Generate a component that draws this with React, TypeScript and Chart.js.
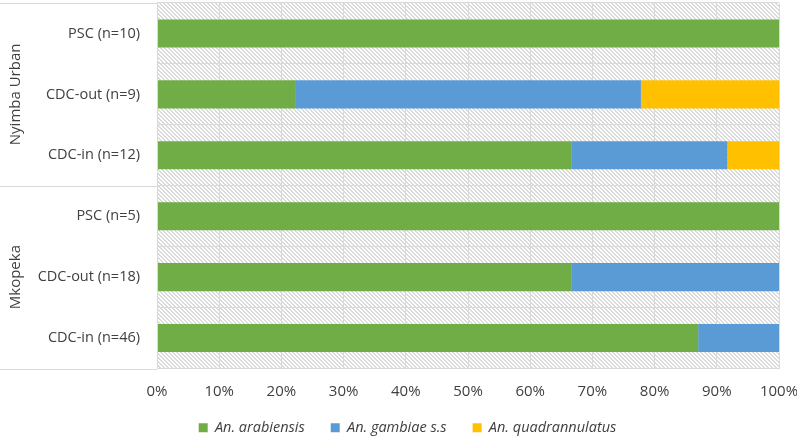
import React, { useEffect, useRef } from "react";
import { Chart, registerables } from "chart.js";

Chart.register(...registerables);

const categories = ["PSC (n=10)", "CDC-out (n=9)", "CDC-in (n=12)", "PSC (n=5)", "CDC-out (n=18)", "CDC-in (n=46)"];
const groups = ["Nyimba Urban", "Mkopeka"];
const groupSizes = [3, 3];
const arabiensis = [100, 22.2, 66.7, 100, 66.7, 87.0];
const gambiae = [0, 55.6, 25.0, 0, 33.3, 13.0];
const quadrannulatus = [0, 22.2, 8.3, 0, 0, 0];
const seriesNames = ["An. arabiensis", "An. gambiae s.s", "An. quadrannulatus"];
const xTicks = [0, 10, 20, 30, 40, 50, 60, 70, 80, 90, 100];

const FONT = "'Open Sans', 'Liberation Sans', sans-serif";
const TEXT = "#404040";
const GRID = "#d9d9d9";

function makePattern(ctx: CanvasRenderingContext2D) {
  const c = document.createElement("canvas");
  const s = 4;
  c.width = s;
  c.height = s;
  const p = c.getContext("2d")!;
  p.fillStyle = "#ffffff";
  p.fillRect(0, 0, s, s);
  p.fillStyle = "#dadada";
  for (let i = 0; i < s; i++) {
    p.fillRect(i, i, 1, 1);
    p.fillRect((i + 1) % s, i, 1, 1);
  }
  return ctx.createPattern(c, "repeat")!;
}

const bgPlugin = {
  id: "hatchBg",
  beforeDraw(chart: any) {
    const { ctx, chartArea } = chart;
    ctx.save();
    ctx.fillStyle = makePattern(ctx);
    ctx.fillRect(chartArea.left, chartArea.top, chartArea.right - chartArea.left, chartArea.bottom - chartArea.top);
    ctx.restore();
  },
  afterDraw(chart: any) {
    const { ctx, chartArea } = chart;
    const n = categories.length;
    const step = (chartArea.bottom - chartArea.top) / n;
    ctx.save();
    ctx.strokeStyle = GRID;
    ctx.lineWidth = 1;
    let idx = 0;
    const bounds = [0];
    groupSizes.forEach((g) => {
      idx += g;
      bounds.push(idx);
    });
    bounds.forEach((b) => {
      const y = Math.round(chartArea.top + b * step) + 0.5;
      ctx.beginPath();
      ctx.moveTo(0, y);
      ctx.lineTo(chartArea.left, y);
      ctx.stroke();
    });
    ctx.beginPath();
    ctx.moveTo(Math.round(chartArea.left) + 0.5, chartArea.top);
    ctx.lineTo(Math.round(chartArea.left) + 0.5, chartArea.bottom);
    ctx.stroke();
    ctx.fillStyle = TEXT;
    ctx.font = `15px ${FONT}`;
    ctx.textAlign = "center";
    ctx.textBaseline = "middle";
    groups.forEach((g, i) => {
      const yc = chartArea.top + ((bounds[i] + bounds[i + 1]) / 2) * step;
      ctx.save();
      ctx.translate(16, yc);
      ctx.rotate(-Math.PI / 2);
      ctx.fillText(g, 0, 0);
      ctx.restore();
    });
    ctx.restore();
  },
};

export default function App() {
  const ref = useRef<HTMLCanvasElement>(null);
  useEffect(() => {
    document.body.style.margin = "0";
    const chart = new Chart(ref.current!, {
      type: "bar",
      data: {
        labels: categories,
        datasets: [
          { label: seriesNames[0], data: arabiensis, backgroundColor: "#70ad47" },
          { label: seriesNames[1], data: gambiae, backgroundColor: "#5b9bd5" },
          { label: seriesNames[2], data: quadrannulatus, backgroundColor: "#ffc000" },
        ],
      },
      plugins: [bgPlugin],
      options: {
        indexAxis: "y",
        animation: false,
        responsive: false,
        maintainAspectRatio: false,
        layout: { padding: { left: 36, right: 18, top: 3, bottom: -8 } },
        datasets: { bar: { barPercentage: 0.46, categoryPercentage: 1 } },
        scales: {
          x: {
            stacked: true,
            min: 0,
            max: 100,
            afterBuildTicks: (scale: any) => {
              scale.ticks = xTicks.map((v) => ({ value: v }));
            },
            ticks: {
              callback: (v: any) => v + "%",
              color: TEXT,
              font: { family: FONT, size: 15 },
              mirror: true,
              padding: -32,
              maxRotation: 0,
            },
            grid: { color: GRID, drawTicks: false },
            border: { display: false },
            afterFit: (scale: any) => {
              scale.height = 26;
              scale.paddingLeft = 0;
              scale.paddingRight = 0;
            },
          },
          y: {
            stacked: true,
            ticks: {
              color: TEXT,
              font: { family: FONT, size: 14.5 },
              padding: 17,
            },
            grid: { color: GRID, drawTicks: false, offset: true },
            border: { display: false },
            afterFit: (scale: any) => {
              scale.width = 121;
              scale.paddingTop = 0;
              scale.paddingBottom = 0;
            },
          },
        },
        plugins: {
          legend: {
            position: "bottom",
            labels: {
              boxWidth: 9,
              boxHeight: 9,
              padding: 26,
              color: TEXT,
              font: { family: FONT, size: 14.5, style: "italic" },
            },
          },
          tooltip: { enabled: false },
        },
      },
    });
    return () => chart.destroy();
  }, []);
  return (
    <div style={{ position: "absolute", left: 0, top: 0, width: 797, height: 437 }}>
      <canvas ref={ref} width={797} height={437} style={{ width: 797, height: 437 }} />
    </div>
  );
}
